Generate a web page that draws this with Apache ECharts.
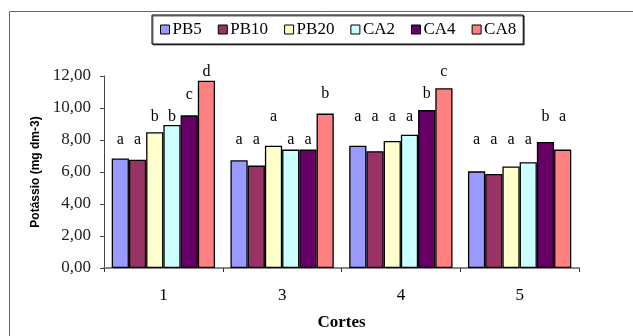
<!DOCTYPE html>
<html>
<head>
<meta charset="utf-8">
<script src="https://cdn.jsdelivr.net/npm/echarts@6/dist/echarts.min.js"></script>
<style>html,body{margin:0;padding:0;background:#fff;}#c{width:633px;height:336px;}</style>
</head>
<body>
<div id="c"></div>
<script>
const categories = ['1', '3', '4', '5'];
const seriesNames = ['PB5', 'PB10', 'PB20', 'CA2', 'CA4', 'CA8'];
const PB5  = [6.85, 6.73, 7.64, 6.04];
const PB10 = [6.77, 6.40, 7.30, 5.88];
const PB20 = [8.49, 7.64, 7.94, 6.34];
const CA2  = [8.94, 7.40, 8.33, 6.61];
const CA4  = [9.54, 7.40, 9.87, 7.88];
const CA8  = [11.71, 9.65, 11.23, 7.40];
// significance letters per series (per category)
const lettersPB5  = ['a', 'a', 'a', 'a'];
const lettersPB10 = ['a', 'a', 'a', 'a'];
const lettersPB20 = ['b', 'a', 'a', 'a'];
const lettersCA2  = ['b', 'a', 'a', 'a'];
const lettersCA4  = ['c', 'a', 'b', 'b'];
const lettersCA8  = ['d', 'b', 'c', 'a'];
// height (y value) at which each letter sits
const levelPB5  = [8.0, 8.0, 9.42, 8.0];
const levelPB10 = [8.0, 8.0, 9.42, 8.0];
const levelPB20 = [9.42, 9.42, 9.42, 8.0];
const levelCA2  = [9.42, 8.0, 9.42, 8.0];
const levelCA4  = [10.85, 8.0, 10.9, 9.42];
const levelCA8  = [12.28, 10.9, 12.28, 9.42];
const yTicks = [0, 2, 4, 6, 8, 10, 12];

const values = [PB5, PB10, PB20, CA2, CA4, CA8];
const letters = [lettersPB5, lettersPB10, lettersPB20, lettersCA2, lettersCA4, lettersCA8];
const levels = [levelPB5, levelPB10, levelPB20, levelCA2, levelCA4, levelCA8];
const colors = ['#9999ff', '#993366', '#ffffcc', '#ccffff', '#660066', '#ff8080'];

const chart = echarts.init(document.getElementById('c'));
const serif = '"Liberation Serif", "DejaVu Serif", serif';

const series = seriesNames.map((name, si) => ({
  name: name,
  type: 'bar',
  data: values[si],
  barGap: '0%',
  barCategoryGap: '13%',
  itemStyle: { color: colors[si], borderColor: '#000', borderWidth: 1.3 },
  emphasis: { disabled: true },
  label: {
    show: true,
    position: 'top',
    formatter: p => letters[si][p.dataIndex],
    fontFamily: serif,
    fontSize: 16,
    color: '#000'
  },
  labelLayout: function (params) {
    const lv = levels[params.seriesIndex][params.dataIndex];
    const py = chart.convertToPixel({ yAxisIndex: 0 }, lv);
    return {
      x: params.rect.x + params.rect.width / 2,
      y: py,
      align: 'center',
      verticalAlign: 'middle'
    };
  }
}));

const option = {
  animation: false,
  backgroundColor: '#fff',
  graphic: [{
    type: 'rect',
    shape: { x: 9.5, y: 11.5, width: 700, height: 400 },
    style: { fill: 'none', stroke: '#666', lineWidth: 1 },
    silent: true
  }],
  legend: {
    data: seriesNames,
    left: 152,
    top: 15,
    orient: 'horizontal',
    itemWidth: 9,
    itemHeight: 9,
    itemGap: 16,
    padding: [6, 7, 6, 8],
    borderColor: '#000',
    borderWidth: 1,
    backgroundColor: '#fff',
    shadowColor: 'rgba(0,0,0,0.6)',
    shadowOffsetX: 1,
    shadowOffsetY: 1,
    shadowBlur: 0,
    icon: 'rect',
    itemStyle: { borderColor: '#000', borderWidth: 1 },
    textStyle: { fontFamily: serif, fontSize: 17, color: '#000', padding: [0, 0, 0, -2] }
  },
  grid: { left: 104, right: 54, top: 76, bottom: 58, containLabel: false },
  xAxis: {
    type: 'category',
    data: categories,
    name: 'Cortes',
    nameLocation: 'middle',
    nameGap: 46,
    nameTextStyle: { fontFamily: serif, fontSize: 17, fontWeight: 'bold', color: '#000' },
    axisLine: { lineStyle: { color: '#888', width: 2 } },
    axisTick: { show: true, length: 4, lineStyle: { color: '#333' } },
    axisLabel: { fontFamily: serif, fontSize: 17, color: '#000', margin: 19 }
  },
  yAxis: {
    type: 'value',
    min: 0,
    max: 12,
    interval: 2,
    name: 'Potássio (mg dm-3)',
    nameLocation: 'middle',
    nameGap: 62,
    nameTextStyle: { fontFamily: '"Liberation Sans", Arial, sans-serif', fontSize: 12, fontWeight: 'bold', color: '#000' },
    axisLine: { show: true, lineStyle: { color: '#444', width: 1 } },
    axisTick: { show: true, length: 4, lineStyle: { color: '#444' } },
    splitLine: { show: false },
    axisLabel: {
      fontFamily: serif, fontSize: 17, color: '#222', margin: 13,
      formatter: v => yTicks.indexOf(v) >= 0 ? v.toFixed(2).replace('.', ',') : ''
    }
  },
  series: series
};
chart.setOption(option);
</script>
</body>
</html>
